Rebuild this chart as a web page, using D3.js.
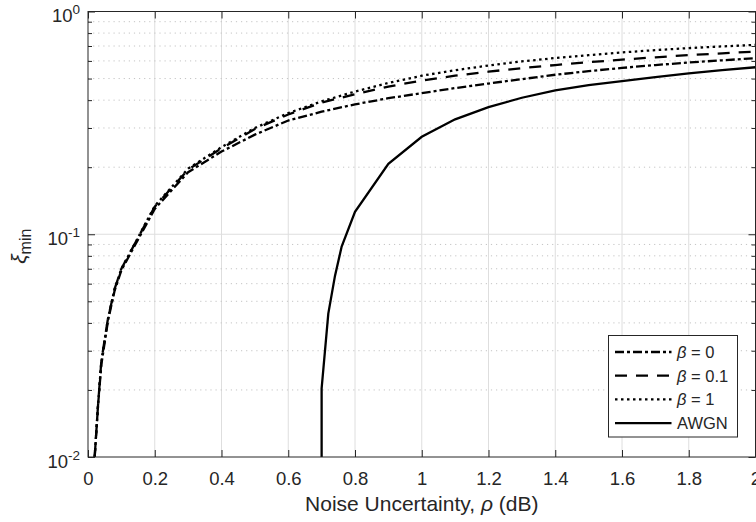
<!DOCTYPE html>
<html>
<head>
<meta charset="utf-8">
<script src="https://cdn.jsdelivr.net/npm/d3@7"></script>
<style>
  body { margin: 0; background: #fff; }
  svg text { font-family: "Liberation Sans", Arial, sans-serif; fill: #262626; }
</style>
</head>
<body>
<div id="chart"></div>
<script>
// noise uncertainty (dB) sample points for the beta curves
const rhoDb = [0.02, 0.03, 0.04, 0.06, 0.08, 0.1, 0.2, 0.3, 0.4, 0.5, 0.6, 0.7, 0.8, 0.9,
  1.0, 1.1, 1.2, 1.3, 1.4, 1.5, 1.6, 1.7, 1.8, 1.9, 2.0];
const xiBeta0 = [0.01, 0.017, 0.026, 0.041, 0.056, 0.069, 0.13, 0.19, 0.235, 0.28, 0.324, 0.355,
  0.383, 0.408, 0.43, 0.453, 0.475, 0.497, 0.52, 0.54, 0.558, 0.575, 0.59, 0.604, 0.617];
const xiBeta01 = [0.01, 0.017, 0.027, 0.042, 0.057, 0.07, 0.133, 0.195, 0.243, 0.297, 0.345, 0.39,
  0.425, 0.46, 0.49, 0.515, 0.537, 0.557, 0.575, 0.592, 0.608, 0.623, 0.637, 0.649, 0.661];
const xiBeta1 = [0.01, 0.017, 0.027, 0.042, 0.057, 0.07, 0.134, 0.197, 0.246, 0.3, 0.35, 0.395,
  0.437, 0.478, 0.515, 0.545, 0.572, 0.597, 0.618, 0.637, 0.655, 0.671, 0.685, 0.697, 0.708];

// AWGN curve has its own sample points
const awgnRho = [0.7, 0.7, 0.72, 0.74, 0.76, 0.8, 0.9, 1.0, 1.1, 1.2, 1.3, 1.4, 1.5, 1.6, 1.7, 1.8, 1.9, 2.0];
const awgnXi = [0.01, 0.0203, 0.044, 0.065, 0.088, 0.126, 0.207, 0.274, 0.328, 0.372, 0.41, 0.443,
  0.467, 0.487, 0.508, 0.528, 0.545, 0.562];

const xTickValues = [0, 0.2, 0.4, 0.6, 0.8, 1, 1.2, 1.4, 1.6, 1.8, 2];
const xTickLabels = ['0', '0.2', '0.4', '0.6', '0.8', '1', '1.2', '1.4', '1.6', '1.8', '2'];
const yTickValues = [0.01, 0.1, 1];
const yTickExps = ['-2', '-1', '0'];

const seriesNames = ['β = 0', 'β = 0.1', 'β = 1', 'AWGN'];

const width = 756, height = 522;
const plot = { left: 88, right: 755.5, top: 11.5, bottom: 457 };

const svg = d3.select('#chart').append('svg')
  .attr('width', width)
  .attr('height', height);

svg.append('rect').attr('width', width).attr('height', height).attr('fill', '#fff');

const x = d3.scaleLinear().domain([0, 2]).range([plot.left, plot.right]);
const y = d3.scaleLog().domain([0.01, 1]).range([plot.bottom, plot.top]);

// minor y values 2..9 per decade
const yMinor = [];
[0.01, 0.1].forEach(d => { for (let k = 2; k <= 9; k++) yMinor.push(d * k); });

// grid
const grid = svg.append('g');
grid.selectAll('line.vx')
  .data(xTickValues.slice(1, -1))
  .join('line')
  .attr('x1', d => x(d)).attr('x2', d => x(d))
  .attr('y1', plot.top).attr('y2', plot.bottom)
  .attr('stroke', '#dedede').attr('stroke-width', 1);
grid.selectAll('line.my')
  .data(yMinor)
  .join('line')
  .attr('x1', plot.left).attr('x2', plot.right)
  .attr('y1', d => y(d)).attr('y2', d => y(d))
  .attr('stroke', '#c4c4c4').attr('stroke-width', 1)
  .attr('stroke-dasharray', '1.2,3.9');
grid.selectAll('line.hy')
  .data([0.1])
  .join('line')
  .attr('x1', plot.left).attr('x2', plot.right)
  .attr('y1', d => y(d)).attr('y2', d => y(d))
  .attr('stroke', '#dedede').attr('stroke-width', 1);

// curves
svg.append('clipPath').attr('id', 'plot-clip')
  .append('rect').attr('x', plot.left).attr('y', plot.top)
  .attr('width', plot.right - plot.left).attr('height', plot.bottom - plot.top);

const series = [
  { name: seriesNames[0], xs: rhoDb, ys: xiBeta0, dash: '9,3,3,3' },
  { name: seriesNames[1], xs: rhoDb, ys: xiBeta01, dash: '12,9' },
  { name: seriesNames[2], xs: rhoDb, ys: xiBeta1, dash: '2.5,3.5' },
  { name: seriesNames[3], xs: awgnRho, ys: awgnXi, dash: null }
];

const line = d3.line().x(d => x(d[0])).y(d => y(d[1]));

const curves = svg.append('g').attr('clip-path', 'url(#plot-clip)');
series.forEach(s => {
  curves.append('path')
    .datum(s.xs.map((v, i) => [v, s.ys[i]]))
    .attr('d', line)
    .attr('fill', 'none')
    .attr('stroke', '#000')
    .attr('stroke-width', 2.3)
    .attr('stroke-dasharray', s.dash);
});

// axes (ticks inward), box drawn separately
const axisStyle = g => {
  g.select('.domain').remove();
  g.selectAll('.tick line').attr('stroke', '#262626');
};
svg.append('g').attr('transform', `translate(0,${plot.bottom})`)
  .call(d3.axisBottom(x).tickValues(xTickValues).tickSize(-7).tickFormat((d, i) => xTickLabels[i]).tickPadding(15))
  .call(axisStyle)
  .call(g => g.selectAll('text').attr('font-size', 18.5).attr('fill', '#262626').attr('font-family', '"Liberation Sans", Arial, sans-serif'));
svg.append('g').attr('transform', `translate(0,${plot.top})`)
  .call(d3.axisTop(x).tickValues(xTickValues).tickSize(-7).tickFormat(''))
  .call(axisStyle);
svg.append('g').attr('transform', `translate(${plot.left},0)`)
  .call(d3.axisLeft(y).tickValues(yTickValues).tickSize(-7).tickFormat(''))
  .call(axisStyle);
svg.append('g').attr('transform', `translate(${plot.left},0)`)
  .call(d3.axisLeft(y).tickValues(yMinor).tickSize(-4).tickFormat(''))
  .call(axisStyle);
svg.append('g').attr('transform', `translate(${plot.right},0)`)
  .call(d3.axisRight(y).tickValues(yTickValues).tickSize(-7).tickFormat(''))
  .call(axisStyle);
svg.append('g').attr('transform', `translate(${plot.right},0)`)
  .call(d3.axisRight(y).tickValues(yMinor).tickSize(-4).tickFormat(''))
  .call(axisStyle);

svg.append('rect')
  .attr('x', plot.left).attr('y', plot.top)
  .attr('width', plot.right - plot.left).attr('height', plot.bottom - plot.top)
  .attr('fill', 'none').attr('stroke', '#262626').attr('stroke-width', 1);

// y tick labels 10^n
yTickValues.forEach((v, i) => {
  const t = svg.append('text')
    .attr('x', plot.left - 8)
    .attr('y', y(v) + 10.5)
    .attr('text-anchor', 'end')
    .attr('font-size', 18.5);
  t.append('tspan').text('10');
  t.append('tspan').attr('dy', -8).attr('font-size', 13.5).text(yTickExps[i]);
});

// axis titles
const xl = svg.append('text')
  .attr('x', x(1))
  .attr('y', 511)
  .attr('text-anchor', 'middle')
  .attr('font-size', 21);
xl.append('tspan').text('Noise Uncertainty, ');
xl.append('tspan').attr('font-style', 'italic').text('ρ');
xl.append('tspan').text(' (dB)');

const yl = svg.append('text')
  .attr('transform', `translate(26,${(plot.top + plot.bottom) / 2 + 12}) rotate(-90)`)
  .attr('text-anchor', 'middle')
  .attr('font-size', 21);
yl.append('tspan').attr('font-style', 'italic').text('ξ');
yl.append('tspan').attr('dy', 5).attr('font-size', 16).text('min');

// legend
const legend = svg.append('g');
legend.append('rect')
  .attr('x', 608.5).attr('y', 335.5)
  .attr('width', 129).attr('height', 101.5)
  .attr('fill', '#fff').attr('stroke', '#262626').attr('stroke-width', 1);

series.forEach((s, i) => {
  const cy = 352 + i * 23.7;
  legend.append('line')
    .attr('x1', 615).attr('x2', 671.5)
    .attr('y1', cy).attr('y2', cy)
    .attr('stroke', '#000').attr('stroke-width', 2.3)
    .attr('stroke-dasharray', s.dash);
  const t = legend.append('text')
    .attr('x', 677)
    .attr('y', cy + 6)
    .attr('font-size', 16.5);
  if (s.name.startsWith('β')) {
    t.append('tspan').attr('font-style', 'italic').text('β');
    t.append('tspan').text(s.name.slice(1));
  } else {
    t.text(s.name);
  }
});
</script>
</body>
</html>
